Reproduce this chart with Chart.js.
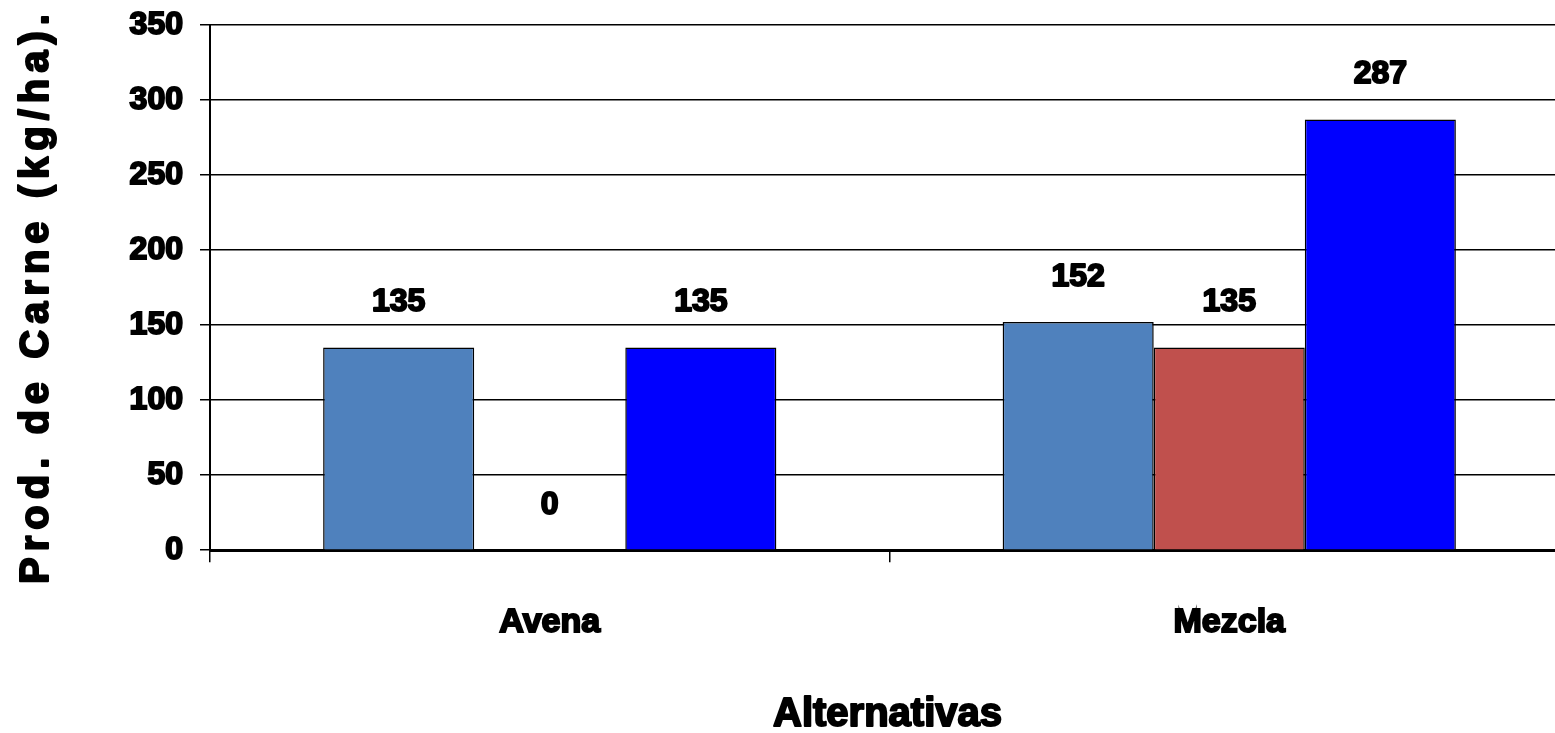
<!DOCTYPE html>
<html>
<head>
<meta charset="utf-8">
<script src="https://cdn.jsdelivr.net/npm/chart.js@4"></script>
<style>
  html, body { margin: 0; padding: 0; background: #fff; overflow: hidden; }
  /* plot runs a little past the right edge of the window, as in the original */
  #wrap { width: 1569px; height: 733px; }
</style>
</head>
<body>
<div id="wrap"><canvas id="chart"></canvas></div>
<script>
const categories = ["Avena", "Mezcla"];
const serie1 = [135, 152];
const serie2 = [0, 135];
const serie3 = [135, 287];
const yTicks = [0, 50, 100, 150, 200, 250, 300, 350];

const FONT = "'Liberation Sans', Arial, sans-serif";

// bold text with a thin stroke so it looks as heavy as the original
function heavyText(ctx, text, x, y, size) {
  ctx.font = "bold " + size + "px " + FONT;
  ctx.fillStyle = "#000";
  ctx.strokeStyle = "#000";
  ctx.lineWidth = 2;
  ctx.lineJoin = "round";
  ctx.strokeText(text, x, y);
  ctx.fillText(text, x, y);
}

// value labels floating above each bar
const valueLabels = {
  id: "valueLabels",
  afterDatasetsDraw(chart) {
    const ctx = chart.ctx;
    ctx.save();
    ctx.textAlign = "center";
    ctx.textBaseline = "middle";
    chart.data.datasets.forEach((ds, i) => {
      chart.getDatasetMeta(i).data.forEach((bar, j) => {
        heavyText(ctx, String(ds.data[j]), bar.x, bar.y - 45, 32);
      });
    });
    ctx.restore();
  }
};

// axis titles (the y one is letter-spaced)
const axisTitles = {
  id: "axisTitles",
  afterDraw(chart) {
    const ctx = chart.ctx;
    const area = chart.chartArea;
    ctx.save();
    ctx.textAlign = "center";
    ctx.textBaseline = "middle";
    heavyText(ctx, "Alternativas", (area.left + area.right) / 2 - 2, 715, 40);
    ctx.letterSpacing = "6px";
    ctx.translate(37, 296);
    ctx.rotate(-Math.PI / 2);
    heavyText(ctx, "Prod. de Carne (kg/ha).", 0, 0, 40);
    ctx.restore();
  }
};

new Chart(document.getElementById("chart"), {
  type: "bar",
  data: {
    labels: categories,
    datasets: [
      { label: "Serie 1", data: serie1, backgroundColor: "#4F81BD" },
      { label: "Serie 2", data: serie2, backgroundColor: "#C0504D" },
      { label: "Serie 3", data: serie3, backgroundColor: "#0000FF" }
    ].map(d => Object.assign(d, {
      borderColor: "#000",
      borderWidth: 1.5,
      categoryPercentage: 0.667,
      barPercentage: 1
    }))
  },
  options: {
    responsive: true,
    maintainAspectRatio: false,
    animation: false,
    layout: { padding: { top: 20, right: 0, bottom: 0, left: 0 } },
    plugins: {
      legend: { display: false },
      tooltip: { enabled: false }
    },
    scales: {
      x: {
        grid: {
          offset: true,
          drawOnChartArea: false,
          drawTicks: true,
          tickLength: 12,
          color: "#000",
          lineWidth: 1.5
        },
        border: { color: "#000", width: 3 },
        ticks: {
          padding: 40,
          color: "#000",
          textStrokeColor: "#000",
          textStrokeWidth: 2,
          font: { family: FONT, size: 34, weight: "bold" }
        },
        title: {
          display: true,
          text: "Alternativas",
          color: "rgba(0,0,0,0)",
          padding: { top: 14, bottom: 0 },
          font: { family: FONT, size: 36, weight: "bold", lineHeight: 1 }
        }
      },
      y: {
        min: 0,
        max: 350,
        afterFit(scale) { scale.width = 210; },
        afterBuildTicks(scale) { scale.ticks = yTicks.map(v => ({ value: v })); },
        grid: {
          color: "#000",
          lineWidth: 1.5,
          tickLength: 10
        },
        border: { color: "#000", width: 2 },
        ticks: {
          padding: 17,
          color: "#000",
          textStrokeColor: "#000",
          textStrokeWidth: 2,
          font: { family: FONT, size: 32, weight: "bold", lineHeight: 0.5 }
        }
      }
    }
  },
  plugins: [valueLabels, axisTitles]
});
</script>
</body>
</html>
